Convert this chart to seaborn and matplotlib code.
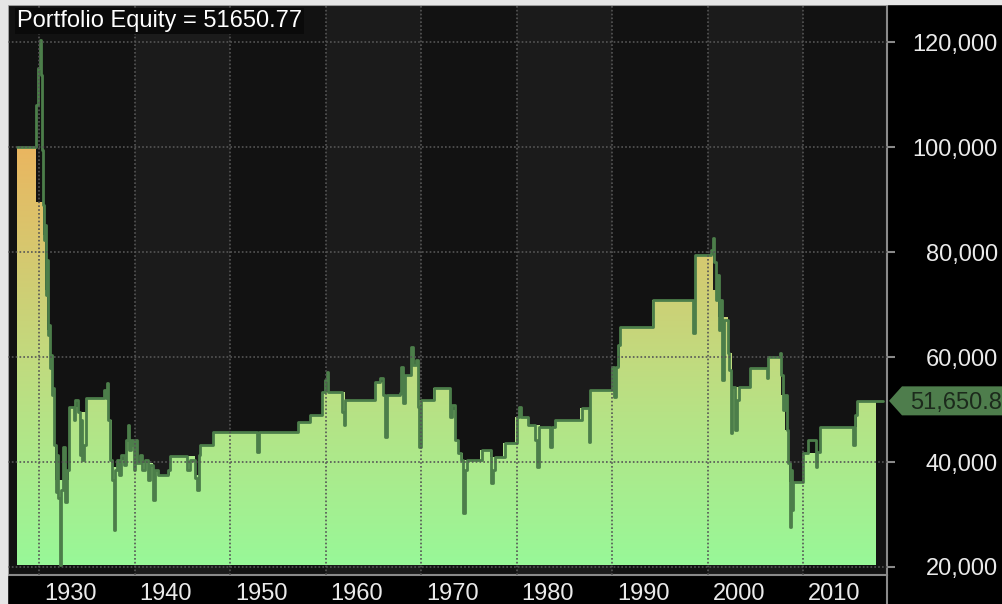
import numpy as np
import matplotlib
matplotlib.use('Agg')
import matplotlib.pyplot as plt
import seaborn as sns
from matplotlib.colors import LinearSegmentedColormap
from matplotlib.patches import Polygon, Rectangle
from matplotlib.lines import Line2D
from matplotlib.transforms import ScaledTranslation, IdentityTransform

# closed-trade equity (stepped area)
step_years = [1927.70, 1929.69, 1930.42, 1930.63, 1930.84, 1931.15, 1931.36, 1931.68,
              1933.14, 1934.19, 1934.92, 1937.22, 1937.64, 1938.17, 1939.11, 1940.26,
              1941.94, 1942.46, 1943.72, 1946.34, 1946.86, 1948.22, 1957.12, 1958.38,
              1959.63, 1962.04, 1965.18, 1966.02, 1968.32, 1969.05, 1969.68, 1971.25,
              1973.03, 1973.56, 1973.87, 1974.39, 1976.17, 1977.22, 1978.58, 1979.84,
              1981.20, 1982.46, 1984.03, 1986.65, 1987.69, 1990.00, 1990.84, 1994.19,
              1998.69, 2000.58, 2001.10, 2002.15, 2002.57, 2004.45, 2006.34, 2007.70,
              2008.11, 2008.53, 2010.00, 2011.78, 2015.65, 2017.64]
step_equity = [100000, 89500, 83200, 72800, 65100, 58500, 53700, 36600,
               50500, 49500, 52200, 48000, 39100, 40400, 44200, 39800,
               38500, 37500, 41100, 37500, 43200, 45700, 47600, 49000,
               53300, 51800, 55200, 52800, 56600, 58500, 51800, 54100,
               49900, 44200, 41700, 40400, 42300, 41000, 43600, 48600,
               47100, 46700, 48000, 50300, 53700, 58100, 65700, 70900,
               79400, 72800, 67600, 60800, 54300, 57900, 60000, 52800,
               46100, 36200, 41700, 46700, 51650, 51650]

# mark-to-market equity (dark green line)
mtm_years = [1927.70, 1929.58, 1929.69, 1929.90, 1930.10, 1930.21, 1930.31, 1930.42,
             1930.52, 1930.63, 1930.73, 1930.84, 1930.94, 1931.05, 1931.15, 1931.26,
             1931.36, 1931.47, 1931.57, 1931.78, 1931.88, 1931.99, 1932.20, 1932.30,
             1932.51, 1932.72, 1932.93, 1933.14, 1933.56, 1933.66, 1933.77, 1934.08,
             1934.29, 1934.40, 1934.50, 1934.71, 1934.92, 1936.60, 1936.81, 1937.02,
             1937.12, 1937.22, 1937.43, 1937.64, 1937.85, 1937.96, 1938.17, 1938.38,
             1938.59, 1938.90, 1939.11, 1939.32, 1939.42, 1939.63, 1939.84, 1939.95,
             1940.05, 1940.26, 1940.58, 1940.79, 1941.10, 1941.41, 1941.62, 1941.94,
             1942.15, 1942.46, 1943.51, 1943.72, 1945.29, 1945.50, 1945.81, 1946.34,
             1946.54, 1946.75, 1946.86, 1948.01, 1948.22, 1952.62, 1952.83, 1953.04,
             1956.91, 1957.12, 1958.27, 1958.38, 1959.42, 1959.63, 1959.95, 1960.16,
             1960.26, 1961.52, 1961.73, 1961.94, 1962.04, 1964.87, 1965.18, 1965.71,
             1966.02, 1966.23, 1966.44, 1967.80, 1967.91, 1968.12, 1968.32, 1968.74,
             1968.95, 1969.16, 1969.47, 1969.68, 1969.79, 1970.00, 1971.25, 1971.36,
             1972.72, 1973.03, 1973.25, 1973.56, 1973.87, 1974.18, 1974.39, 1974.60,
             1974.81, 1976.17, 1976.38, 1977.12, 1977.33, 1977.54, 1977.75, 1978.58,
             1978.79, 1979.84, 1980.05, 1980.26, 1980.47, 1981.20, 1981.73, 1981.94,
             1982.15, 1982.36, 1983.30, 1983.51, 1983.72, 1984.03, 1986.65, 1986.86,
             1987.49, 1987.59, 1987.69, 1989.79, 1990.00, 1990.21, 1990.42, 1990.63,
             1990.84, 1994.19, 1994.29, 1998.27, 1998.48, 1998.69, 2000.26, 2000.37,
             2000.58, 2000.68, 2000.89, 2001.00, 2001.21, 2001.31, 2001.52, 2001.73,
             2002.15, 2002.25, 2002.46, 2002.57, 2002.88, 2003.09, 2003.30, 2004.35,
             2004.45, 2006.02, 2006.23, 2006.34, 2007.49, 2007.59, 2007.70, 2007.91,
             2008.11, 2008.32, 2008.43, 2008.64, 2008.74, 2008.85, 2008.95, 2009.90,
             2010.00, 2010.42, 2010.52, 2011.36, 2011.47, 2011.78, 2015.03, 2015.24,
             2015.45, 2015.65, 2018.38]
mtm_equity = [100000, 100000, 108000, 115100, 120400, 113700, 99400, 89000,
              82300, 85200, 71800, 78500, 64200, 66100, 57900, 60400,
              52800, 54100, 43200, 34300, 41300, 33100, 20400, 34700,
              42900, 32400, 38500, 50500, 50500, 48000, 51800, 49500,
              41300, 48000, 40400, 43200, 52200, 52200, 53700, 52200,
              55100, 48000, 40400, 36600, 27000, 38500, 40400, 37500,
              41300, 39400, 44200, 47100, 42300, 44200, 43200, 38500,
              44200, 39800, 41300, 38500, 40400, 36600, 39400, 32800,
              38500, 37500, 38500, 41100, 41100, 38500, 40400, 37000,
              34700, 41300, 43200, 43200, 45700, 45700, 41900, 45700,
              45700, 47600, 47600, 49000, 49000, 53300, 55600, 57100,
              53300, 53300, 49500, 47100, 51800, 51800, 55200, 56000,
              52800, 44800, 52800, 53100, 58100, 51200, 56600, 56600,
              61900, 58500, 59400, 50500, 42900, 51800, 51800, 54100,
              54100, 48600, 50900, 44200, 41700, 40400, 30300, 38500,
              40400, 40400, 42300, 42300, 36000, 38500, 41000, 41000,
              43600, 43600, 48600, 50500, 48600, 47100, 47100, 44200,
              39100, 46700, 46700, 42900, 46700, 48000, 48000, 50300,
              50300, 43800, 53700, 53700, 58100, 52400, 58100, 62300,
              65700, 65700, 70900, 70900, 64600, 79400, 79400, 80400,
              82700, 78100, 70900, 75600, 65100, 70900, 55600, 67100,
              60800, 57500, 45500, 54300, 46100, 51800, 54300, 54300,
              57900, 57900, 56000, 60000, 60000, 60800, 56600, 49900,
              52800, 46100, 39800, 27600, 38500, 30900, 36200, 36200,
              41700, 41700, 44200, 39100, 41900, 46700, 46700, 43200,
              49000, 51650, 51650]

decades = [1930, 1940, 1950, 1960, 1970, 1980, 1990, 2000, 2010]
equity_ticks = [20000, 40000, 60000, 80000, 100000, 120000]
final_equity = 51650.77

sns.set_style('dark')
plt.rcParams['font.family'] = ['Liberation Sans', 'DejaVu Sans']

W, H = 1002, 604
fig = plt.figure(figsize=(W / 100, H / 100), dpi=100, facecolor='black')
ax = fig.add_axes([8 / W, 29 / H, 879 / W, 570 / H])
ax.set_facecolor('#121212')

# alternating decade bands
for d in decades[1::2]:
    ax.axvspan(d, d + 10, color='#1b1b1b', lw=0, zorder=0)

# gradient area clipped to the stepped equity
base = min(mtm_equity)
top = max(step_equity)
cmap = LinearSegmentedColormap.from_list('eq', ['#98f898', '#c2da7e', '#eab660'])
grad = np.linspace(0, 1, 256).reshape(-1, 1)
im = ax.imshow(grad, extent=[step_years[0], step_years[-1], base, top], origin='lower',
               aspect='auto', cmap=cmap, zorder=1, interpolation='bilinear')
poly = ax.fill_between(step_years, step_equity, base, step='post', facecolor='none', lw=0)
im.set_clip_path(poly.get_paths()[0], transform=ax.transData)

sns.lineplot(x=mtm_years, y=mtm_equity, sort=False, estimator=None, color='#4c7e4a',
             lw=2.0, drawstyle='steps-post', ax=ax, zorder=2)

ax.set_xlim(1926.75, 2018.79)
ax.set_ylim(18476, 127060)

ax.grid(True, color='#555555', linestyle=(0, (1, 1.3)), lw=1.2)
ax.set_axisbelow(False)

for s in ax.spines.values():
    s.set_color('#8a8a8a')
    s.set_linewidth(1.5)

ax.set_xticks(decades)
ax.set_xticklabels([str(d) for d in decades])
ax.yaxis.tick_right()
ax.set_yticks(equity_ticks)
ax.set_yticklabels([f'{v:,}' for v in equity_ticks])
ax.tick_params(axis='x', direction='out', length=5.8, width=1.5, color='#8a8a8a',
               labelcolor='#eaeaea', labelsize=17, pad=0)
ax.tick_params(axis='y', direction='out', length=5.8, width=1.5, color='#8a8a8a',
               labelcolor='#eaeaea', labelsize=17, pad=74)
for lbl in ax.get_xticklabels():
    lbl.set_ha('left')
    lbl.set_transform(lbl.get_transform() + ScaledTranslation(5 / 100, 0, fig.dpi_scale_trans))
for lbl in ax.get_yticklabels():
    lbl.set_ha('right')
ax.set_xlabel('')
ax.set_ylabel('')

# light outer border and spine extension
fig.patches.append(Rectangle((0, 0), 7 / W, 1, transform=fig.transFigure, color='#e6e6e6'))
fig.patches.append(Rectangle((0, 1 - 4 / H), 1, 4 / H, transform=fig.transFigure, color='#e6e6e6'))
fig.lines.append(Line2D([887 / W, 887 / W], [0, 29 / H], transform=fig.transFigure,
                        color='#8a8a8a', lw=1.5))

fig.text(17 / W, 1 - 21 / H, f'Portfolio Equity = {final_equity:.2f}', color='white',
         fontsize=17, ha='left', va='center',
         bbox=dict(facecolor='#0a0a0a', edgecolor='none', pad=1.5))

# last value marker on the right axis
yc = ax.transData.transform((2018, final_equity))[1]
xr = ax.transAxes.transform((1, 0))[0]
marker = Polygon([(xr + 2, yc), (xr + 15, yc + 14.5), (W + 10, yc + 14.5),
                  (W + 10, yc - 14.5), (xr + 15, yc - 14.5)], closed=True,
                 transform=IdentityTransform(), facecolor='#4e7d4c', edgecolor='none')
fig.patches.append(marker)
fig.text(xr + 23, yc, f'{final_equity:,.1f}', transform=IdentityTransform(),
         color='#1c2a1c', fontsize=17, ha='left', va='center_baseline')

fig.savefig('out.png', dpi=100, facecolor='black')
